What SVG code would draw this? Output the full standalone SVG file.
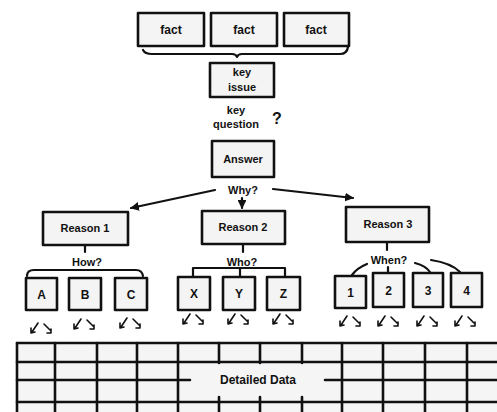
<svg xmlns="http://www.w3.org/2000/svg" width="497" height="412" viewBox="0 0 497 412">
<style>
.box{fill:#f4f4f4;stroke:#111;stroke-width:2.6;stroke-linejoin:round}
.ln{fill:none;stroke:#111;stroke-width:2.2;stroke-linecap:round;stroke-linejoin:round}
.mk{fill:none;stroke:#111;stroke-width:1.6;stroke-linecap:round;stroke-linejoin:round}
.t{font-family:"Liberation Sans",Arial,sans-serif;font-weight:bold;font-size:11px;fill:#111;text-anchor:middle}
.tb{font-family:"Liberation Sans",Arial,sans-serif;font-weight:bold;font-size:12px;fill:#111;text-anchor:middle}
</style>
<defs>
<marker id="ah" viewBox="0 0 10 10" refX="9" refY="5" markerWidth="4" markerHeight="4" orient="auto" markerUnits="strokeWidth">
<path d="M0,0 L10,5 L0,10 Z" fill="#111"/>
</marker>
<g id="mk">
<path class="mk" d="M9,0 L3,9 M2,5 L2,10 L6,9"/>
<path class="mk" d="M15,1 L21,7 M18,10 L22,10 L22,6"/>
</g>
</defs>
<rect width="497" height="412" fill="#fff"/>

<g id="fact1"><rect class="box" x="138" y="13" width="66" height="33"/><text class="tb" x="171" y="34">fact</text></g>
<g id="fact2"><rect class="box" x="211" y="13" width="66" height="33"/><text class="tb" x="244" y="34">fact</text></g>
<g id="fact3"><rect class="box" x="284" y="13" width="65" height="33"/><text class="tb" x="316" y="34">fact</text></g>
<g id="keyissue"><rect class="box" x="210" y="63" width="64" height="34"/><text class="t" x="242" y="76">key</text><text class="t" x="242" y="91">issue</text></g>
<g id="keyquestion"><text class="t" x="236" y="114">key</text><text class="t" x="236" y="128">question</text><text class="t" x="277" y="124" style="font-size:16px">?</text></g>
<g id="answer"><rect class="box" x="212" y="141" width="62" height="36"/><text class="t" x="243" y="163">Answer</text></g>
<g id="why"><text class="t" x="243" y="194">Why?</text></g>
<g id="reason1"><rect class="box" x="43" y="212" width="85" height="33"/><text class="t" x="85" y="232">Reason 1</text></g>
<g id="reason2"><rect class="box" x="202" y="211" width="83" height="33"/><text class="t" x="243" y="231">Reason 2</text></g>
<g id="reason3"><rect class="box" x="346" y="207" width="83" height="35"/><text class="t" x="388" y="228">Reason 3</text></g>
<g id="how"><text class="t" x="87" y="266">How?</text></g>
<g id="who"><text class="t" x="242" y="266">Who?</text></g>
<g id="when"><text class="t" x="389" y="264">When?</text></g>
<g id="boxA"><rect class="box" x="26" y="278" width="31" height="32"/><text class="tb" x="41.5" y="299">A</text></g>
<g id="boxB"><rect class="box" x="69" y="278" width="32" height="32"/><text class="tb" x="85" y="299">B</text></g>
<g id="boxC"><rect class="box" x="115" y="278" width="32" height="32"/><text class="tb" x="131" y="299">C</text></g>
<g id="boxX"><rect class="box" x="178" y="277" width="32" height="33"/><text class="tb" x="194" y="298">X</text></g>
<g id="boxY"><rect class="box" x="223" y="277" width="32" height="33"/><text class="tb" x="239" y="298">Y</text></g>
<g id="boxZ"><rect class="box" x="267" y="277" width="33" height="33"/><text class="tb" x="283.5" y="298">Z</text></g>
<g id="box1"><rect class="box" x="335" y="276" width="31" height="32"/><text class="tb" x="350.5" y="297">1</text></g>
<g id="box2"><rect class="box" x="373" y="273" width="31" height="34"/><text class="tb" x="388.5" y="295">2</text></g>
<g id="box3"><rect class="box" x="413" y="273" width="30" height="34"/><text class="tb" x="428" y="295">3</text></g>
<g id="box4"><rect class="box" x="451" y="273" width="31" height="34"/><text class="tb" x="466.5" y="295">4</text></g>

<g id="connectors">
<path class="ln" d="M143,50 Q145,54 152,54 L232,54 Q236,54 237,57 Q238,54 242,54 L340,54 Q347,54 348,47"/>
<path class="ln" d="M215,190 L131,208" marker-end="url(#ah)"/>
<path class="ln" d="M273,189 L353,198" marker-end="url(#ah)"/>
<path class="ln" d="M242,198 L242,208" marker-end="url(#ah)"/>
<path class="ln" d="M85,245 L85,252"/>
<path class="ln" d="M27,276 Q27,270 34,270 L136,270 Q142,270 143,276"/>
<path class="ln" d="M243,244 L243,252"/>
<path class="ln" d="M193,277 L193,268 L285,268 L285,277 M240,268 L240,277"/>
<path class="ln" d="M387,242 L387,250"/>
<path class="ln" d="M367,264 Q357,268 352,275 M388,267 L388,273 M415,263 Q426,266 430,272 M431,260 Q451,263 460,272"/>
</g>

<g id="marks">
<use href="#mk" x="29" y="323"/>
<use href="#mk" x="72" y="319"/>
<use href="#mk" x="118" y="318"/>
<use href="#mk" x="181" y="314"/>
<use href="#mk" x="226" y="314"/>
<use href="#mk" x="271" y="314"/>
<use href="#mk" x="338" y="316"/>
<use href="#mk" x="376" y="316"/>
<use href="#mk" x="415" y="316"/>
<use href="#mk" x="453" y="316"/>
</g>

<g id="detailed-data">
<rect x="17" y="343" width="480" height="69" fill="#f5f5f5"/>
<path class="ln" style="stroke-width:2.6" d="M17,343 L497,343 M17,362 L497,362 M17,402 L497,402 M17,380 L190,380 M325,380 L497,380"/>
<path class="ln" style="stroke-width:2.6" d="M17,343 L17,412 M55,343 L55,412 M97,343 L97,412 M137,343 L137,412 M178,343 L178,412 M342,343 L342,412 M383,343 L383,412 M425,343 L425,412 M467,343 L467,412 M219,343 L219,363 M260,343 L260,363 M302,343 L302,363 M219,397 L219,412 M260,397 L260,412 M302,397 L302,412"/>
<text class="tb" x="258" y="384">Detailed Data</text>
</g>
</svg>
